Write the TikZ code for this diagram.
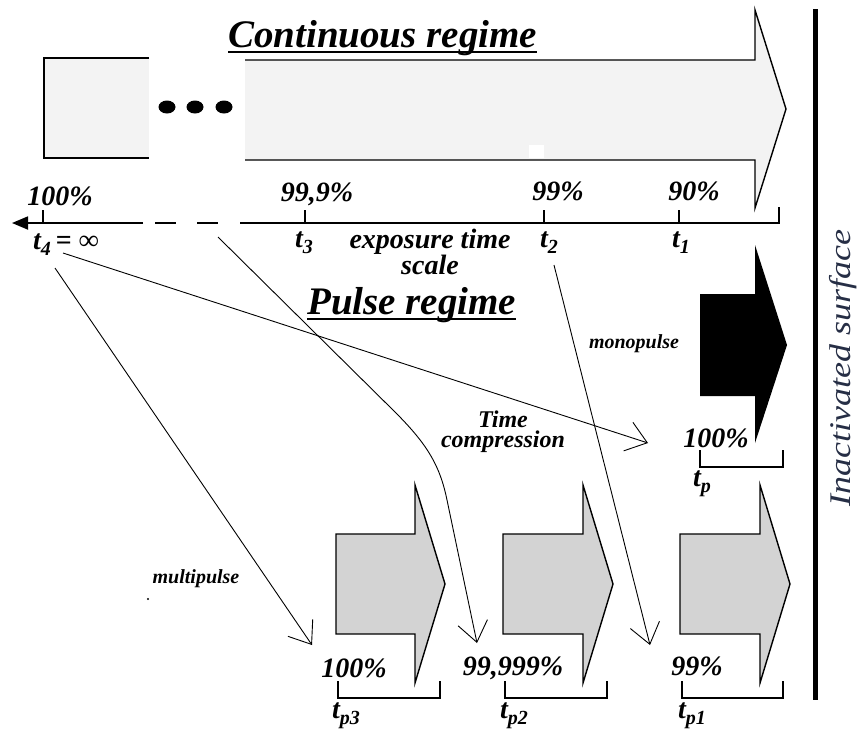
\documentclass[tikz,border=0pt]{standalone}
\usepackage{fontspec}
\usepackage{graphicx}
\setmainfont{Liberation Serif}
\usetikzlibrary{arrows.meta}
\definecolor{lightfill}{HTML}{F3F3F3}
\definecolor{grayfill}{HTML}{D3D3D3}
\definecolor{surfcol}{HTML}{262E45}
\newcommand\fsz[1]{\fontsize{#1}{#1}\selectfont}
\newcommand\sbs[1]{\raisebox{-6pt}{\fsz{20}#1}}
\begin{document}
\begin{tikzpicture}[x=1pt,y=-1pt,
  lbl/.style={inner sep=0pt, font=\fsz{28}\bfseries\itshape},
  ttl/.style={inner sep=0pt, anchor=base west, font=\fsz{39}\bfseries\itshape},
  small/.style={inner sep=0pt, font=\fsz{20}\bfseries\itshape},
  conn/.style={line width=0.9pt, -{Straight Barb[length=20pt,width=30pt]}},
  outl/.style={line width=1.4pt, line join=miter},
  brk/.style={line width=2.4pt},
  tickmark/.style={line width=2.4pt},
  axis/.style={line width=1.8pt}]
\useasboundingbox (0,0) rectangle (858,729);

% ---- continuous regime ----
\fill[lightfill] (44,58) rectangle (149,158);
\draw[outl] (149,58) -- (44,58) -- (44,158) -- (149,158);
\foreach \x in {167,195,224} \fill (\x,107) ellipse [x radius=8.5, y radius=6.5];
\fill[lightfill] (245,60) -- (755,60) -- (755,10) -- (786,109) -- (755,208) -- (755,160) -- (245,160) -- cycle;
\draw[outl] (245,60) -- (755,60) -- (755,10) -- (786,109) -- (755,208) -- (755,160) -- (245,160);
\fill[white] (529,145) rectangle (544,158);

\node[ttl] (ct) at (228,47) {Continuous regime};
\draw[line width=1.6pt] ([yshift=-5pt]ct.base west) -- ([yshift=-5pt]ct.base east);

% ---- axis ----
\draw[axis,-{Triangle[length=16pt,width=13pt]}] (143,223) -- (12,223);
\draw[axis] (155,223) -- (176,223) (197,223) -- (218,223);
\draw[axis] (240,223) -- (780,223);
\foreach \x in {43,305,544,679} \draw[tickmark] (\x,210) -- (\x,223);
\draw[tickmark] (779,207) -- (779,224);

\node[lbl,anchor=base] (p100) at (60,205) {100\%};
\node[lbl,anchor=base] (p999) at (317,201) {99,9\%};
\node[lbl,anchor=base] (p99) at (558,200) {99\%};
\node[lbl,anchor=base] (p90) at (694,200) {90\%};

\node[lbl,anchor=base west] (t4) at (33,249) {t\sbs{4}\hspace{5pt}{\upshape =\hspace{7pt}∞}};
\node[lbl,anchor=base west] (t3) at (295,247) {t\sbs{3}};
\node[lbl,anchor=base west] (t2) at (540,247) {t\sbs{2}};
\node[lbl,anchor=base west] (t1) at (672,247) {t\sbs{1}};
\node[lbl,align=center,font=\fontsize{28}{21}\selectfont\bfseries\itshape] (ets) at (430,252) {exposure time\\scale};

% ---- surface ----
\draw[line width=5pt] (815,9) -- (815,700);
\node[rotate=90, text=surfcol, inner sep=0pt, font=\fsz{30}\itshape] (surf) at (843,368) {\scalebox{1.2}[1]{Inactivated surface}};

% ---- pulse regime ----
\node[ttl] (pt) at (307,314) {Pulse regime};
\draw[line width=1.6pt] ([yshift=-5pt]pt.base west) -- ([yshift=-5pt]pt.base east);

% monopulse
\fill (700,294) -- (755,294) -- (755,245) -- (787,345) -- (755,443) -- (755,396) -- (700,396) -- cycle;
\draw[brk] (700,450) -- (700,467) -- (783,467) -- (783,450);
\node[lbl,anchor=base] (m100) at (716,447) {100\%};
\node[lbl,anchor=base west] (tp) at (693,486) {t\sbs{p}};
\node[small] (mono) at (634,344) {monopulse};
\node[inner sep=0pt,align=center,font=\fontsize{24}{20}\selectfont\bfseries\itshape] (tc) at (503,432) {Time\\compression};

% multipulse
\foreach \l/\s/\t in {336/415/445, 503/583/613, 680/760/790}
  \filldraw[outl, fill=grayfill] (\l,534) -- (\s,534) -- (\s,485) -- (\t,584) -- (\s,683) -- (\s,634) -- (\l,634) -- cycle;
\foreach \a/\b in {338/440, 505/607, 682/783}
  \draw[brk] (\a,681) -- (\a,698) -- (\b,698) -- (\b,681);
\node[lbl,anchor=base] (q100) at (354,677) {100\%};
\node[lbl,anchor=base] (q99999) at (513,675) {99,999\%};
\node[lbl,anchor=base] (q99) at (697,675) {99\%};
\node[lbl,anchor=base west] (tp3) at (332,718) {t\sbs{p3}};
\node[lbl,anchor=base west] (tp2) at (500,718) {t\sbs{p2}};
\node[lbl,anchor=base west] (tp1) at (678,718) {t\sbs{p1}};
\node[small] (multi) at (196,579) {multipulse};
\fill (148,599) circle [radius=1.2];

% ---- connectors ----
\coordinate (s1) at (63,253);  \coordinate (e1) at (648,443);
\coordinate (s2) at (55,268);  \coordinate (e2) at (312,645);
\coordinate (s3) at (218,237); \coordinate (e3) at (477,643);
\coordinate (c3a) at (395,412); \coordinate (c3b) at (447,500);
\coordinate (s4) at (554,265); \coordinate (e4) at (650,645);
\draw[conn] (s1) -- (e1);
\draw[conn] (s2) -- (e2);
\draw[conn] (s3) -- (c3a) .. controls (428,445) and (440,466) .. (c3b) -- (e3);
\draw[conn] (s4) -- (e4);
\end{tikzpicture}
\end{document}
